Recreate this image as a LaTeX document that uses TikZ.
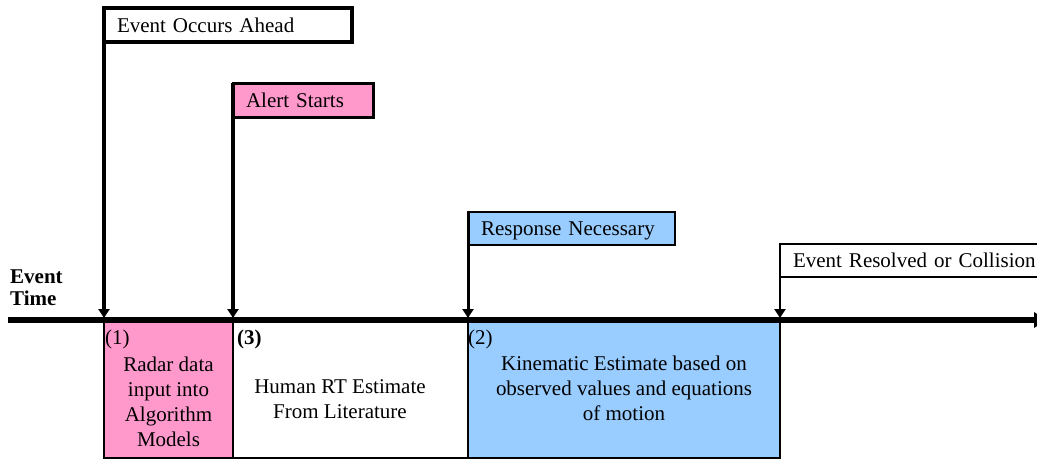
\documentclass[tikz,border=0pt]{standalone}
\usepackage{fontspec}
\setmainfont{Liberation Serif}
\usetikzlibrary{arrows.meta}
\definecolor{pinkfill}{HTML}{FF99CC}
\definecolor{bluefill}{HTML}{99CCFF}
\begin{document}
\begin{tikzpicture}[x=1pt,y=-1pt,
  font=\fontsize{21}{25}\selectfont,
  tag/.style={draw, anchor=north west, outer sep=0pt, inner xsep=13pt, inner ysep=0pt,
    text height=14.5pt, text depth=0pt, align=left},
  stem/.style={-{Triangle[width=11pt,length=9pt]}},
  phase/.style={draw, line width=2pt, anchor=north west, outer sep=0pt, inner sep=0pt},
  body/.style={align=center, inner sep=0pt},
  num/.style={anchor=base west, inner sep=0pt}]
\useasboundingbox (0,0) rectangle (1037,459);

% phase boxes below the time line
\node[phase, fill=pinkfill, minimum width=129, minimum height=137] (ph1) at (104,321) {};
\node[phase, fill=white, minimum width=235, minimum height=137] (ph3) at (233,321) {};
\node[phase, fill=bluefill, minimum width=312, minimum height=137] (ph2) at (468,321) {};

\node[num] (n1) at (105,344) {(1)};
\node[body] (t1) at (168.5,402) {Radar data\\input into\\Algorithm\\Models};
\node[num] (n3) at (237,344) {\textbf{(3)}};
\node[body] (t3) at (340,399) {Human RT Estimate\\From Literature};
\node[num] (n2) at (468,344) {(2)};
\node[body] (t2) at (624,388) {Kinematic Estimate based on\\observed values and equations\\of motion};

% time axis
\coordinate (axs) at (8,320);
\coordinate (axe) at (1047,320);
\draw[line width=5.5pt, -{Triangle[width=15pt,length=13pt]}] (axs) -- (axe);

\node[num, font=\fontsize{21}{25}\bfseries] (ev) at (10,283) {Event};
\node[num, font=\fontsize{21}{25}\bfseries] (tm) at (10,305) {Time};

% event markers
\coordinate (m1) at (104,318);
\coordinate (m2) at (233,318);
\coordinate (m3) at (468,318);
\coordinate (m4) at (780,318);

\node[tag, line width=3.5pt, fill=white, minimum width=248, minimum height=34, text width=222] (occ) at (104,8) {Event Occurs Ahead};
\node[tag, line width=3pt, fill=pinkfill, minimum width=140, minimum height=34, text width=114] (alr) at (233,83) {Alert Starts};
\node[tag, line width=2pt, fill=bluefill, minimum width=207, minimum height=33, text width=181] (rsp) at (468,212) {Response Necessary};
\node[tag, line width=2.5pt, fill=white, minimum width=275, minimum height=33, text width=249] (res) at (780,244) {Event Resolved or Collision};

\draw[stem, line width=4pt] (occ.north west) -- (m1);
\draw[stem, line width=4pt] (alr.north west) -- (m2);
\draw[stem, line width=3pt] (rsp.north west) -- (m3);
\draw[stem, line width=2.5pt] (res.north west) -- (m4);
\end{tikzpicture}
\end{document}
